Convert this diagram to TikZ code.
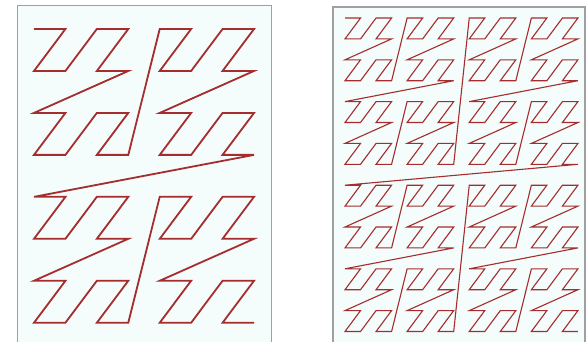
\documentclass[tikz,border=0pt]{standalone}
\definecolor{bgc}{RGB}{244,252,252}
\definecolor{framec}{RGB}{160,160,160}
\definecolor{curvec}{RGB}{165,45,45}
\tikzset{
  panel/.style={fill=bgc, draw=framec, line width=1.2pt},
  zcurve/.style={draw=curvec, line join=miter},
}
\begin{document}
\begin{tikzpicture}[x=1pt,y=-1pt]
\useasboundingbox (0,0) rectangle (586,341);
\clip (0,0) rectangle (586,341);
\fill[white] (0,0) rectangle (586,341);
% panels
\draw[panel] (17.5,5.5) rectangle (271.5,350);
\draw[panel] (333,7) rectangle (585,350);
% left Z-order curve, 8x8
\draw[zcurve, line width=1.8pt] plot[samples at={0,...,63}]
  ({34+31.43*(mod(\x,2)+2*mod(floor(\x/4),2)+4*mod(floor(\x/16),2))},
   {29+41.96*(mod(floor(\x/2),2)+2*mod(floor(\x/8),2)+4*mod(floor(\x/32),2))});
% right Z-order curve, 16x16
\draw[zcurve, line width=1.1pt] plot[samples at={0,...,255}]
  ({345+15.53*(mod(\x,2)+2*mod(floor(\x/4),2)+4*mod(floor(\x/16),2)+8*mod(floor(\x/64),2))},
   {18+20.9*(mod(floor(\x/2),2)+2*mod(floor(\x/8),2)+4*mod(floor(\x/32),2)+8*mod(floor(\x/128),2))});
\end{tikzpicture}
\end{document}
